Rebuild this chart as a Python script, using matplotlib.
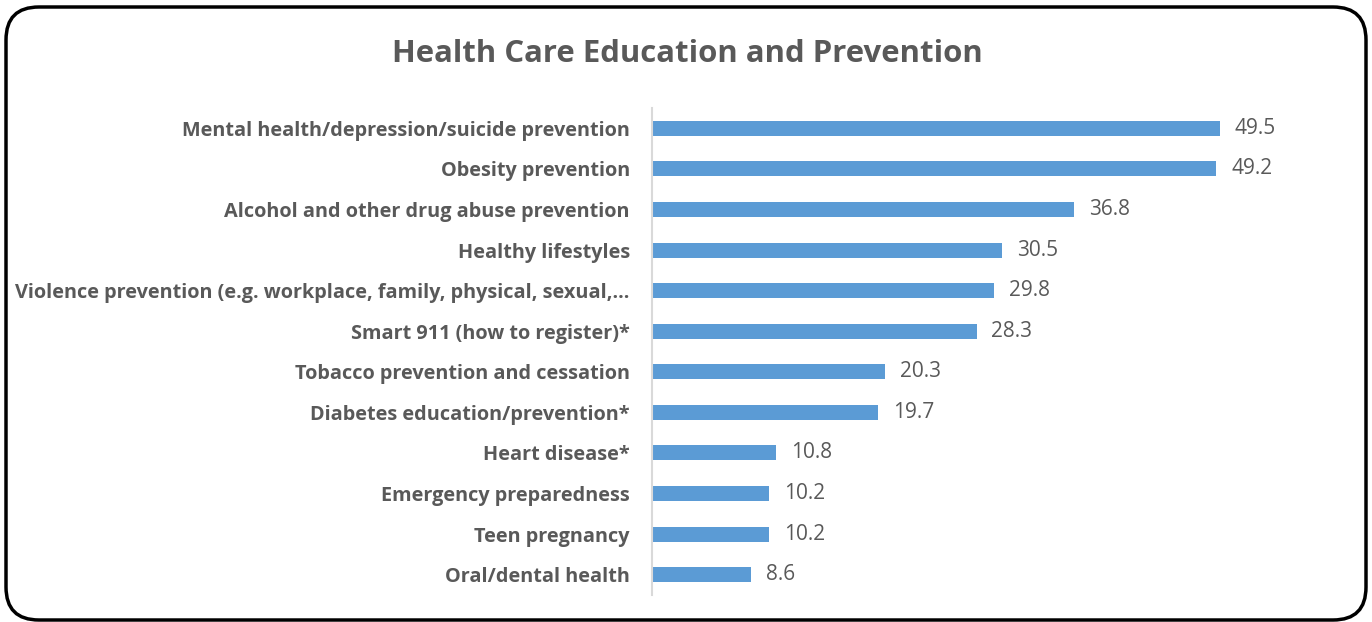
import matplotlib.pyplot as plt
from matplotlib.patches import FancyBboxPatch

categories = [
    "Mental health/depression/suicide prevention",
    "Obesity prevention",
    "Alcohol and other drug abuse prevention",
    "Healthy lifestyles",
    "Violence prevention (e.g. workplace, family, physical, sexual,\u2026",
    "Smart 911 (how to register)*",
    "Tobacco prevention and cessation",
    "Diabetes education/prevention*",
    "Heart disease*",
    "Emergency preparedness",
    "Teen pregnancy",
    "Oral/dental health",
]
values = [49.5, 49.2, 36.8, 30.5, 29.8, 28.3, 20.3, 19.7, 10.8, 10.2, 10.2, 8.6]

plt.rcParams['font.family'] = ['Open Sans', 'DejaVu Sans']
gray = "#595959"

fig = plt.figure(figsize=(13.72, 6.22), dpi=100)
W, H = 1372, 622
# axes placed in pixel terms: left 652, right ~1340, top 108, bottom 595
ax = fig.add_axes([652 / W, 1 - 595 / H, (1340 - 652) / W, (595 - 108) / H])

y = list(range(len(categories)))
ax.barh(y, values, height=0.37, color="#5B9BD5")
ax.set_ylim(len(categories) - 0.5, -0.5)
ax.set_xlim(0, 60)

for yi, v in zip(y, values):
    ax.text(v + 1.3, yi, f"{v:.1f}", va="center", ha="left",
            fontsize=15, color=gray)

ax.set_yticks(y)
ax.set_yticklabels(categories, fontsize=14.3, fontweight="bold", color=gray)
ax.tick_params(axis="y", length=0, pad=16)
ax.set_xticks([])
for s in ["top", "right", "bottom"]:
    ax.spines[s].set_visible(False)
ax.spines["left"].set_color("#D9D9D9")
ax.spines["left"].set_linewidth(1.5)

fig.text(687 / W, 1 - 54 / H, "Health Care Education and Prevention",
         ha="center", va="center", fontsize=22.4, fontweight="bold", color=gray)

frame = FancyBboxPatch((6 / W, 2 / H), 1360 / W, 613 / H,
                       boxstyle="round,pad=0,rounding_size=0.024",
                       transform=fig.transFigure, fill=False,
                       edgecolor="black", linewidth=2.5, mutation_aspect=W / H)
fig.patches.append(frame)

fig.savefig("out.png", dpi=100)
